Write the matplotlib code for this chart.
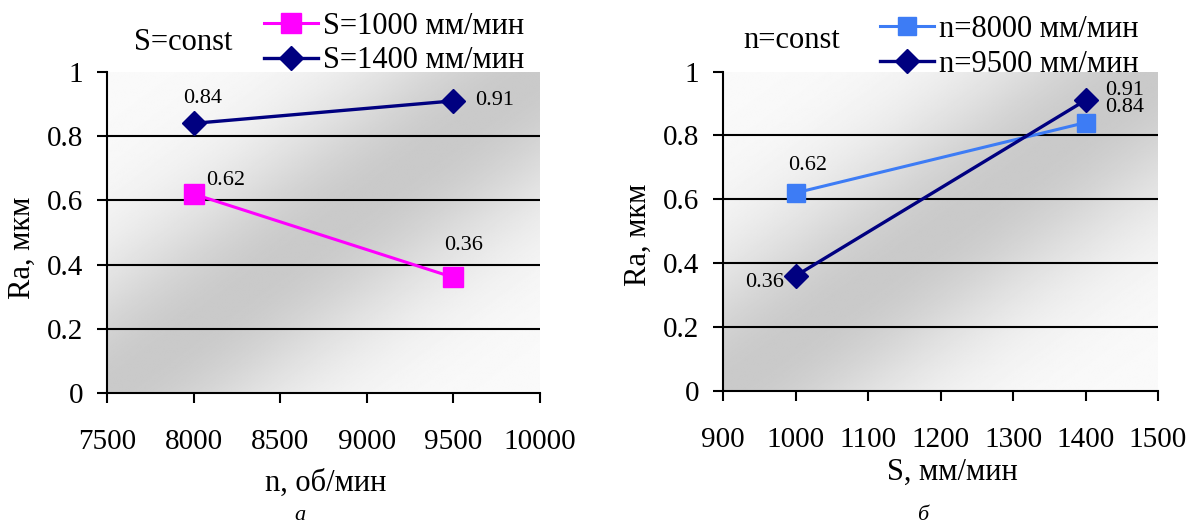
import numpy as np
import matplotlib
matplotlib.use("Agg")
import matplotlib.pyplot as plt

plt.rcParams['font.family'] = ['Liberation Serif', 'DejaVu Serif']

# data
n_values = [8000, 9500]
ra_s1000 = [0.62, 0.36]
ra_s1400 = [0.84, 0.91]

s_values = [1000, 1400]
ra_n8000 = [0.62, 0.84]
ra_n9500 = [0.36, 0.91]

y_ticks = [0, 0.2, 0.4, 0.6, 0.8, 1.0]
y_tick_labels = ['0', '0.2', '0.4', '0.6', '0.8', '1']
n_ticks = [7500, 8000, 8500, 9000, 9500, 10000]
s_ticks = [900, 1000, 1100, 1200, 1300, 1400, 1500]

W, H = 1194, 525
MAGENTA = '#ff00ff'
NAVY = '#000080'
LIGHTBLUE = '#3d7cf5'
FS = 22


def px(x, y):
    """pixel position (from top-left) -> figure fraction"""
    return x / W, 1 - y / H


def gradient_background(ax):
    # diagonal grey fill: darker along the bottom-left / top-right line
    u = np.linspace(0, 1, 300)
    uu, vv = np.meshgrid(u, u)
    d = np.abs(uu - vv)
    dark, light = 0.79, 0.98
    img = light - (light - dark) * np.exp(-(d / 0.42) ** 2)
    ax.imshow(img, extent=[0, 1, 0, 1], transform=ax.transAxes, origin='lower',
              cmap='gray', vmin=0, vmax=1, aspect='auto', interpolation='bilinear',
              zorder=0)


def style_axes(ax, xlim, xticks):
    gradient_background(ax)
    ax.set_xlim(*xlim)
    ax.set_ylim(0, 1)
    ax.set_xticks(xticks)
    ax.set_xticklabels([str(t) for t in xticks])
    ax.set_yticks(y_ticks)
    ax.set_yticklabels(y_tick_labels)
    for y in y_ticks[1:-1]:
        ax.axhline(y, color='black', lw=1.5, zorder=1)
    for side in ('top', 'right'):
        ax.spines[side].set_visible(False)
    for side in ('left', 'bottom'):
        ax.spines[side].set_linewidth(1.5)
        ax.spines[side].set_zorder(2)
    ax.tick_params(axis='x', direction='out', length=7, width=1.5, labelsize=21, pad=19)
    ax.tick_params(axis='y', direction='out', length=7, width=1.5, labelsize=21, pad=10)


def label(ax, x, y, txt, dx, dy, ha='center'):
    ax.annotate(txt, (x, y), xytext=(dx, dy), textcoords='offset points',
                ha=ha, va='center', fontsize=16, zorder=5)


def legend(ax, anchor):
    ax.legend(loc='upper left', bbox_to_anchor=anchor, bbox_transform=fig.transFigure,
              frameon=False, fontsize=FS, handlelength=1.77, handletextpad=0.16,
              labelspacing=0.18, borderpad=0, borderaxespad=0)


fig = plt.figure(figsize=(W / 100, H / 100), dpi=100)
fig.patch.set_facecolor('white')

# ---- panel a ----
ax1 = fig.add_axes([107 / W, 1 - 393 / H, 433 / W, 321 / H])
style_axes(ax1, (7500, 10000), n_ticks)
ax1.plot(n_values, ra_s1000, color=MAGENTA, lw=2.2, marker='s', ms=14,
         label='S=1000 мм/мин', zorder=3)
ax1.plot(n_values, ra_s1400, color=NAVY, lw=2.4, marker='D', ms=12,
         label='S=1400 мм/мин', zorder=3)
label(ax1, n_values[0], ra_s1400[0], '0.84', 6.5, 18)
label(ax1, n_values[1], ra_s1400[1], '0.91', 16, 0, ha='left')
label(ax1, n_values[0], ra_s1000[0], '0.62', 23, 10)
label(ax1, n_values[1], ra_s1000[1], '0.36', 7, 23)
legend(ax1, px(264, 12))
fig.text(*px(183, 42), 'S=const', fontsize=FS, ha='center', va='center')
fig.text(*px(22, 248), 'Ra, мкм', fontsize=FS, rotation=90, ha='center', va='center')
fig.text(*px(326, 483), 'n, об/мин', fontsize=FS, ha='center', va='center')
fig.text(*px(300, 516), 'а', fontsize=16, style='italic', ha='center', va='center')

# ---- panel b ----
ax2 = fig.add_axes([723 / W, 1 - 391 / H, 435 / W, 319.5 / H])
style_axes(ax2, (900, 1500), s_ticks)
ax2.plot(s_values, ra_n8000, color=LIGHTBLUE, lw=2.2, marker='s', ms=13,
         label='n=8000 мм/мин', zorder=3)
ax2.plot(s_values, ra_n9500, color=NAVY, lw=2.4, marker='D', ms=12,
         label='n=9500 мм/мин', zorder=3)
label(ax2, s_values[0], ra_n8000[0], '0.62', 9, 20)
label(ax2, s_values[0], ra_n9500[0], '0.36', -8, -5, ha='right')
label(ax2, s_values[1], ra_n9500[1], '0.91', 14, 7, ha='left')
label(ax2, s_values[1], ra_n8000[1], '0.84', 14, 11, ha='left')
legend(ax2, px(880, 15))
fig.text(*px(792, 40), 'n=const', fontsize=FS, ha='center', va='center')
fig.text(*px(638, 235), 'Ra, мкм', fontsize=FS, rotation=90, ha='center', va='center')
fig.text(*px(952, 472), 'S, мм/мин', fontsize=FS, ha='center', va='center')
fig.text(*px(923, 516), 'б', fontsize=16, style='italic', ha='center', va='center')

fig.savefig('out.png', dpi=100, facecolor='white')
